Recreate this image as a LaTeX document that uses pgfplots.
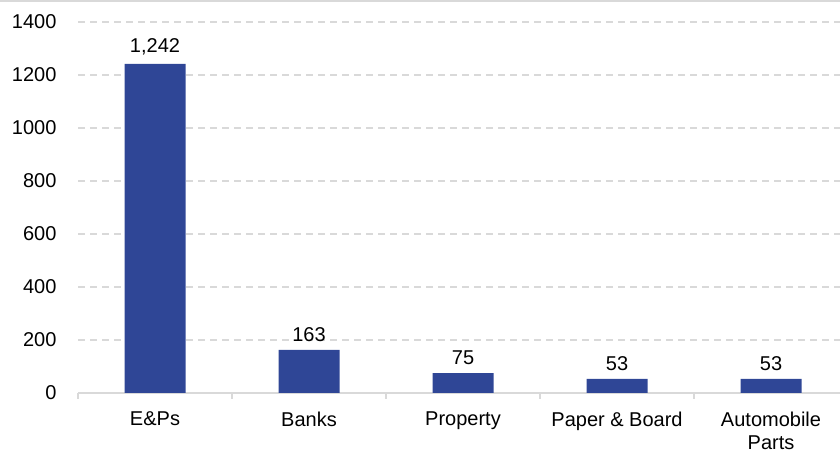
\documentclass[border=0pt]{standalone}
\usepackage{pgfplots}
\pgfplotsset{compat=1.18}
\usepackage{fontspec}
\setmainfont{Liberation Sans}
\definecolor{barblue}{RGB}{47,70,150}
\definecolor{gridgray}{RGB}{217,217,217}
\begin{document}
\begin{tikzpicture}[x=1pt,y=1pt]
\path[use as bounding box] (0,0) rectangle (840,452);
\draw[gridgray, line width=2pt] (0,451) -- (840,451);
\begin{axis}[
  at={(78pt,59pt)}, anchor=south west,
  scale only axis, width=762pt, height=371pt,
  xmin=-0.5, xmax=4.448, ymin=0, ymax=1400,
  axis lines*=left,
  y axis line style={draw=none},
  x axis line style={gridgray, line width=1.5pt},
  ytick={0,200,...,1400},
  ytick style={draw=none},
  xtick={-0.5,0.5,1.5,2.5,3.5},
  xticklabels={},
  xtick style={draw=gridgray, line width=1.5pt},
  tick align=outside,
  major tick length=6pt,
  extra x ticks={0,1,2,3,4},
  extra x tick labels={E\&Ps, Banks, Property, Paper \& Board, Automobile\\Parts},
  extra x tick style={major tick length=0pt, grid=none,
     xticklabel style={align=center, yshift=-15pt}},
  ymajorgrids,
  grid style={gridgray, dash pattern=on 7pt off 5pt, line width=1.3pt},
  /pgf/number format/assume math mode=true,
  /pgf/number format/1000 sep={},
  ticklabel style={font=\fontsize{20}{23}\selectfont},
  yticklabel style={xshift=-12pt},
  ybar, bar width=61pt,
  nodes near coords,
  every node near coord/.append style={font=\fontsize{20}{23}\selectfont, yshift=5pt,
     /pgf/number format/1000 sep={,}, /pgf/number format/assume math mode=true},
  clip=false,
]
\addplot[fill=barblue, draw=none] coordinates {(0,1242) (1,163) (2,75) (3,53) (4,53)};
\end{axis}
\end{tikzpicture}
\end{document}
